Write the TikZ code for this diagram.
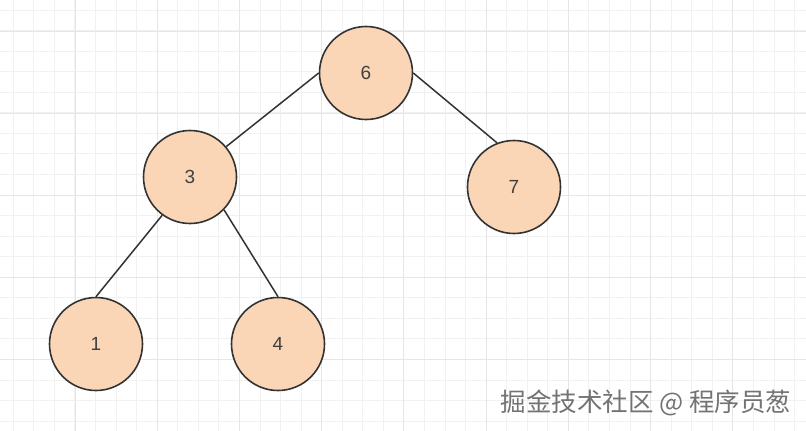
\documentclass[tikz,border=0pt]{standalone}
\usepackage{fontspec}
\usepackage{xcolor}
\setmainfont{Liberation Sans}
\newfontfamily\cjkfont{Noto Sans CJK SC}
\definecolor{peach}{HTML}{FAD6B6}
\definecolor{gridlight}{HTML}{F1F1F1}
\definecolor{griddark}{HTML}{E6E6E6}

\begin{document}
\begin{tikzpicture}[x=1pt,y=-1pt,
    vertex/.style={circle,draw=black!80,line width=1.6pt,fill=peach,minimum size=93pt,inner sep=0pt,
      font=\fontsize{19}{22}\selectfont,text=black!75},
    edge/.style={line width=1.5pt,draw=black!80}]
      \useasboundingbox (0,0) rectangle (806,431);
      \fill [white] (0,0) rectangle (806,431);
      % background grid
      \foreach \i in {0,...,38} \draw [gridlight,line width=1pt] (13.3+20.56*\i,0) -- (13.3+20.56*\i,431);
      \foreach \j in {0,...,20} \draw [gridlight,line width=1pt] (0,10+20.56*\j) -- (806,10+20.56*\j);
      \foreach \i in {0,...,8} \draw [griddark,line width=1pt] (75+82.24*\i,0) -- (75+82.24*\i,431);
      \foreach \j in {0,...,4} \draw [griddark,line width=1pt] (0,31+82.24*\j) -- (806,31+82.24*\j);
      % tree
      \node [vertex] (six) at (366,73) {6};
      \node [vertex] (three) at (190,177) {3};
      \node [vertex] (seven) at (514,187) {7};
      \node [vertex] (one) at (96,344) {1};
      \node [vertex] (four) at (278,344) {4};
      \draw [edge] (six.west) to (three.40);
      \draw [edge] (six.east) to (seven.111);
      \draw [edge] (three.234) to (one.north);
      \draw [edge] (three.316) to (four.north);
      \node [text=black!55,font=\fontsize{25.5}{28}\selectfont] (watermark) at (646,403) {\cjkfont 掘金技术社区 @ 程序员葱};
    \end{tikzpicture}
\end{document}
